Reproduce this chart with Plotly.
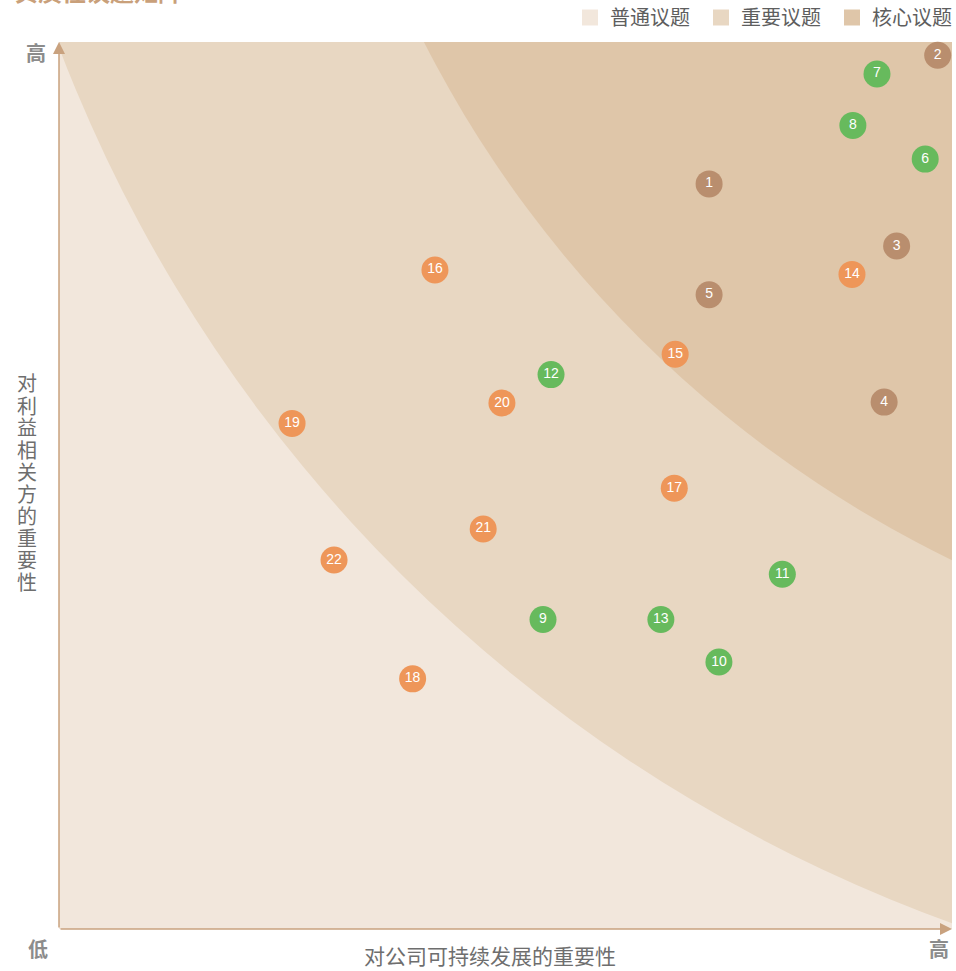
import plotly.graph_objects as go

# ---- data ----
issue_ids = [str(i) for i in range(1, 23)]
importance_company = [72.8, 98.4, 93.8, 92.4, 72.8, 97.0, 91.6, 88.9, 54.2, 73.9, 81.0,
                      55.1, 67.4, 88.8, 69.0, 42.1, 68.9, 39.6, 26.1, 49.6, 47.5, 30.8]
importance_stakeholder = [84.0, 98.5, 77.0, 59.4, 71.5, 86.8, 96.4, 90.6, 34.9, 30.1, 40.0,
                          62.5, 34.9, 73.8, 64.8, 74.3, 49.7, 28.2, 57.0, 59.3, 45.1, 41.6]
issue_group = ["A"] * 5 + ["B"] * 8 + ["C"] * 9
group_colors = {"A": "#B98E6E", "B": "#67BA5D", "C": "#EE9659"}

region_names = ["普通议题", "重要议题", "核心议题"]
region_colors = ["#F2E7DC", "#E8D7C2", "#DFC6A9"]
region_center = (157.6, 159.0)
region_radii = [168.5, 130.8]  # boundaries of 重要议题 / 核心议题

title_text = "实质性议题矩阵"
x_title = "对公司可持续发展的重要性"
y_title = "对利益相关方的重要性"
low_label, high_label = "低", "高"

W, H = 956, 971
ML, MR, MT, MB = 59, 4, 42, 42
PW, PH = W - ML - MR, H - MT - MB


def px(xp):
    return (xp - ML) / PW


def py(yp):
    return (H - MB - yp) / PH


fig = go.Figure()

# legend entries for regions
for name, col in zip(region_names, region_colors):
    fig.add_trace(go.Scatter(x=[None], y=[None], mode="markers", name=name,
                             marker=dict(symbol="square", size=18, color=col),
                             hoverinfo="skip"))

# points
for g in ["A", "B", "C"]:
    idx = [i for i, gg in enumerate(issue_group) if gg == g]
    fig.add_trace(go.Scatter(
        x=[importance_company[i] for i in idx],
        y=[importance_stakeholder[i] for i in idx],
        text=[issue_ids[i] for i in idx],
        mode="markers+text", textposition="middle center",
        textfont=dict(color="white", size=14, family="Liberation Sans, Arial"),
        marker=dict(size=27, color=group_colors[g], line=dict(width=0)),
        showlegend=False, cliponaxis=False,
    ))

# region shapes (concentric circles clipped by the plot area)
cx, cy = region_center
for r, col in zip(region_radii, region_colors[1:]):
    fig.add_shape(type="circle", xref="x", yref="y",
                  x0=cx - r, x1=cx + r, y0=cy - r, y1=cy + r,
                  fillcolor=col, line=dict(width=0), layer="below")

axis_col = "#C9A27F"
# axis arrows
fig.add_annotation(x=0, y=100, ax=0, ay=0, xref="x", yref="y", axref="x", ayref="y",
                   text="", showarrow=True, arrowhead=2, arrowsize=1.6, arrowwidth=1.5,
                   arrowcolor=axis_col)
fig.add_annotation(x=100, y=0, ax=0, ay=0, xref="x", yref="y", axref="x", ayref="y",
                   text="", showarrow=True, arrowhead=2, arrowsize=1.6, arrowwidth=1.5,
                   arrowcolor=axis_col)

label_font = dict(size=20, color="#8C8C8C", family="Noto Sans CJK SC")
fig.add_annotation(x=px(36), y=py(52), xref="paper", yref="paper", text=f"<b>{high_label}</b>",
                   showarrow=False, font=label_font, xanchor="center", yanchor="middle")
fig.add_annotation(x=px(38), y=py(948), xref="paper", yref="paper", text=f"<b>{low_label}</b>",
                   showarrow=False, font=label_font, xanchor="center", yanchor="middle")
fig.add_annotation(x=px(939), y=py(948), xref="paper", yref="paper", text=f"<b>{high_label}</b>",
                   showarrow=False, font=label_font, xanchor="center", yanchor="middle")

# axis titles
fig.add_annotation(x=px(490), y=py(955), xref="paper", yref="paper", text=x_title,
                   showarrow=False, font=dict(size=21, color="#6E6E6E", family="Noto Sans CJK SC"),
                   xanchor="center", yanchor="middle")
for k, ch in enumerate(y_title):
    fig.add_annotation(x=px(27), y=py(383 + k * 22), xref="paper", yref="paper",
                       text=ch, showarrow=False,
                       font=dict(size=20, color="#6E6E6E", family="Noto Sans CJK SC"),
                       xanchor="center", yanchor="middle")

# title (cut off at the top of the page)
fig.add_annotation(x=px(12), y=py(-10), xref="paper", yref="paper",
                   text=f"<b>{title_text}</b>", showarrow=False,
                   font=dict(size=24, color="#C9A07A", family="Noto Sans CJK SC"),
                   xanchor="left", yanchor="middle")

fig.update_xaxes(range=[0, 100], showgrid=False, zeroline=False, showticklabels=False,
                 showline=False, fixedrange=True)
fig.update_yaxes(range=[0, 100], showgrid=False, zeroline=False, showticklabels=False,
                 showline=False, fixedrange=True)

fig.update_layout(
    width=W, height=H,
    margin=dict(l=ML, r=MR, t=MT, b=MB, autoexpand=False),
    plot_bgcolor=region_colors[0], paper_bgcolor="white",
    showlegend=True,
    legend=dict(orientation="h", x=px(570), xanchor="left", y=py(-2), yanchor="top",
                entrywidth=86, entrywidthmode="pixels",
                font=dict(size=20, color="#5E5E5E", family="Noto Sans CJK SC"),
                bgcolor="rgba(0,0,0,0)", itemclick=False, itemdoubleclick=False,
                tracegroupgap=0),
    font=dict(family="Noto Sans CJK SC"),
)

fig.write_html("out.html", config={"displayModeBar": False},
               post_script="document.body.style.margin='0px';")
